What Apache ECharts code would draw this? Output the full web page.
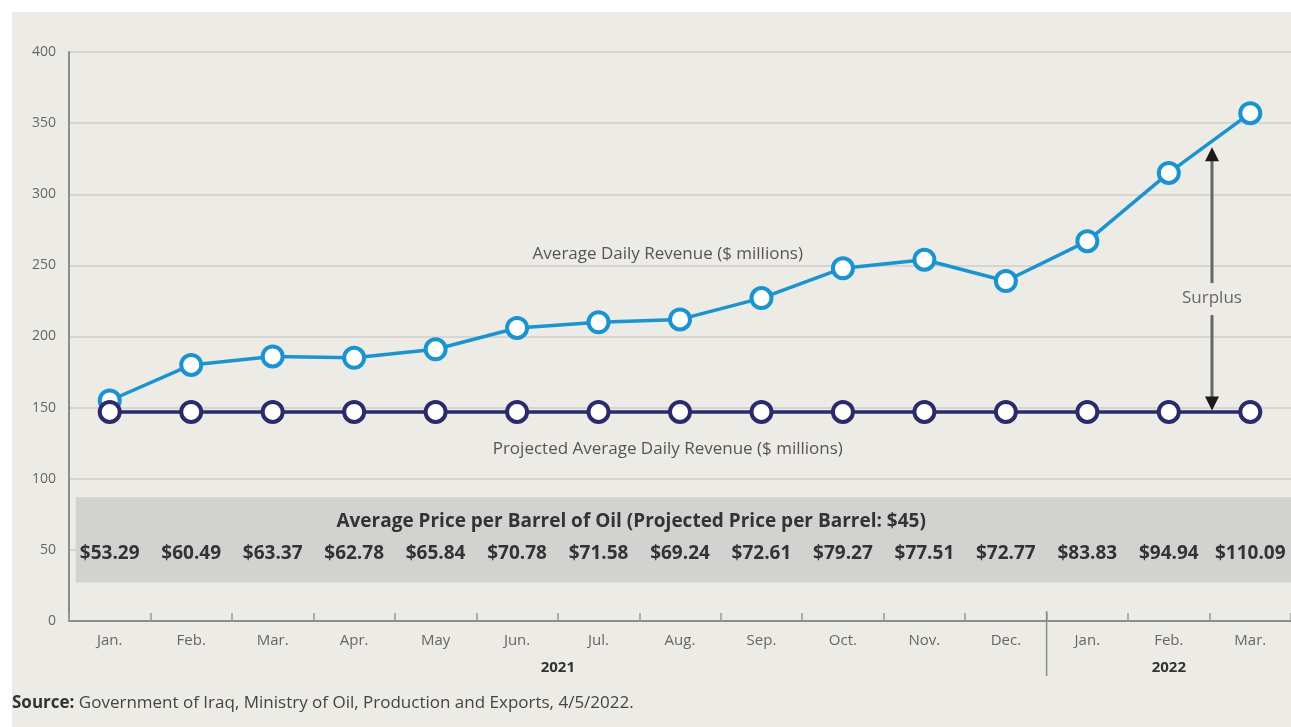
<!DOCTYPE html>
<html>
<head>
<meta charset="utf-8">
<script src="https://cdn.jsdelivr.net/npm/echarts@6/dist/echarts.min.js"></script>
<style>
  html, body { margin: 0; padding: 0; background: #fff; }
  #chart { width: 1291px; height: 727px; }
</style>
</head>
<body>
<div id="chart"></div>
<script>
// months shown on the x axis (Jan 2021 - Mar 2022)
const months = ['Jan.', 'Feb.', 'Mar.', 'Apr.', 'May', 'Jun.', 'Jul.', 'Aug.', 'Sep.', 'Oct.', 'Nov.', 'Dec.', 'Jan.', 'Feb.', 'Mar.']
// average daily revenue, $ millions
const revenue = [155, 180, 186, 185, 191, 206, 210, 212, 227, 248, 254, 239, 267, 315, 357]
// projected average daily revenue, $ millions
const projected = [147, 147, 147, 147, 147, 147, 147, 147, 147, 147, 147, 147, 147, 147, 147]
// average price per barrel of oil
const prices = ['$53.29', '$60.49', '$63.37', '$62.78', '$65.84', '$70.78', '$71.58', '$69.24', '$72.61', '$79.27', '$77.51', '$72.77', '$83.83', '$94.94', '$110.09']
const years = [{ label: '2021', from: 0, to: 11 }, { label: '2022', from: 12, to: 14 }]

const FONT = "'Open Sans', sans-serif"
const BLUE = '#1b93d0'
const NAVY = '#2b2a6b'

const chart = echarts.init(document.getElementById('chart'))

const option = {
  animation: false,
  backgroundColor: '#ffffff',
  textStyle: { fontFamily: FONT },
  grid: { left: 69, right: 0, top: 52, bottom: 106 },
  xAxis: [
    {
      type: 'category',
      data: months,
      boundaryGap: true,
      axisLine: { lineStyle: { color: '#8c8c8a', width: 2 } },
      axisTick: { show: true, inside: true, length: 8, interval: 0, lineStyle: { color: '#9a9a98', width: 1.5 } },
      axisLabel: { color: '#666', fontSize: 15, margin: 12, interval: 0, fontFamily: FONT },
      splitLine: { show: false }
    },
    {
      type: 'category',
      data: prices,
      position: 'bottom',
      offset: -77,
      z: 20,
      axisLine: { show: false },
      axisTick: { show: false },
      axisLabel: { color: '#333', fontSize: 19, fontWeight: 'bold', margin: 0, interval: 0, fontFamily: FONT },
      splitLine: { show: false }
    }
  ],
  yAxis: {
    type: 'value',
    min: 0,
    max: 400,
    interval: 50,
    axisLine: { show: true, lineStyle: { color: '#8c8c8a', width: 2 } },
    axisTick: { show: false },
    axisLabel: { color: '#666', fontSize: 14, margin: 13, fontFamily: FONT },
    splitLine: { lineStyle: { color: '#cfcecb', width: 1.5 } }
  },
  series: [
    {
      name: 'Average Daily Revenue ($ millions)',
      type: 'line',
      data: revenue,
      z: 3,
      symbol: 'circle',
      symbolSize: 20,
      lineStyle: { color: BLUE, width: 3.5 },
      itemStyle: { color: '#fff', borderColor: BLUE, borderWidth: 4 }
    },
    {
      name: 'Projected Average Daily Revenue ($ millions)',
      type: 'line',
      data: projected,
      z: 4,
      symbol: 'circle',
      symbolSize: 20,
      lineStyle: { color: NAVY, width: 3.5 },
      itemStyle: { color: '#fff', borderColor: NAVY, borderWidth: 4 }
    }
  ]
}

chart.setOption(option)

// annotations placed from the chart's own scales
const px = (i, v) => chart.convertToPixel({ gridIndex: 0 }, [i, v])
const lerp = (a, b, t) => a + (b - a) * t
const feb22 = px(13, 0), mar22 = px(14, 0)
const arrowX = lerp(feb22[0], mar22[0], 0.53)
const topY = px(0, 333)[1]
const botY = px(0, 148)[1]
const surplusY = px(0, 227)[1]
const jul = px(6, 0), aug = px(7, 0)
const labelX = lerp(jul[0], aug[0], 0.85)
const titleX = lerp(jul[0], aug[0], 0.4)
const dec = px(11, 0), jan22 = px(12, 0)
const sepX = (dec[0] + jan22[0]) / 2
const axisY = px(0, 0)[1]
const bandTop = px(0, 87)[1], bandBot = px(0, 27)[1]
const note = '17px ' + FONT

const graphics = [
  { type: 'rect', z: -10, silent: true, shape: { x: 12, y: 12, width: 1279, height: 715 }, style: { fill: '#ecebe5' } },
  // price band
  { type: 'rect', z: 1, silent: true, shape: { x: px(0, 0)[0] - 34, y: bandTop, width: 1291, height: bandBot - bandTop }, style: { fill: '#d2d2d0' } },
  { type: 'text', z: 20, x: labelX, y: px(0, 258)[1], style: { text: 'Average Daily Revenue ($ millions)', fill: '#555', font: note, textAlign: 'center', textVerticalAlign: 'middle' } },
  { type: 'text', z: 20, x: labelX, y: px(0, 121)[1], style: { text: 'Projected Average Daily Revenue ($ millions)', fill: '#555', font: note, textAlign: 'center', textVerticalAlign: 'middle' } },
  { type: 'text', z: 20, x: titleX, y: px(0, 70)[1], style: { text: 'Average Price per Barrel of Oil (Projected Price per Barrel: $45)', fill: '#333', font: 'bold 19px ' + FONT, textAlign: 'center', textVerticalAlign: 'middle' } },
  // surplus arrow
  { type: 'line', z: 20, shape: { x1: arrowX, y1: topY + 12, x2: arrowX, y2: surplusY - 15 }, style: { stroke: '#666', lineWidth: 3 } },
  { type: 'line', z: 20, shape: { x1: arrowX, y1: surplusY + 17, x2: arrowX, y2: botY - 12 }, style: { stroke: '#666', lineWidth: 3 } },
  { type: 'polygon', z: 20, shape: { points: [[arrowX, topY], [arrowX - 7, topY + 14], [arrowX + 7, topY + 14]] }, style: { fill: '#1a1a1a' } },
  { type: 'polygon', z: 20, shape: { points: [[arrowX, botY], [arrowX - 7, botY - 14], [arrowX + 7, botY - 14]] }, style: { fill: '#1a1a1a' } },
  { type: 'text', z: 20, x: arrowX, y: surplusY, style: { text: 'Surplus', fill: '#666', font: note, textAlign: 'center', textVerticalAlign: 'middle' } },
  // year separator
  { type: 'line', z: 20, shape: { x1: sepX, y1: axisY - 10, x2: sepX, y2: axisY + 55 }, style: { stroke: '#8c8c8a', lineWidth: 1.5 } },
  // source
  { type: 'text', z: 20, x: 12, y: 703, style: { text: '{b|Source:} Government of Iraq, Ministry of Oil, Production and Exports, 4/5/2022.', rich: { b: { fontWeight: 'bold', fill: '#333', fontSize: 17, fontFamily: FONT } }, fill: '#444', font: '17px ' + FONT, textVerticalAlign: 'middle' } }
]

years.forEach(y => {
  const x = (px(y.from, 0)[0] + px(y.to, 0)[0]) / 2
  graphics.push({ type: 'text', z: 20, x: x, y: axisY + 47, style: { text: y.label, fill: '#333', font: 'bold 15px ' + FONT, textAlign: 'center', textVerticalAlign: 'middle' } })
})

chart.setOption({ graphic: graphics })
</script>
</body>
</html>
